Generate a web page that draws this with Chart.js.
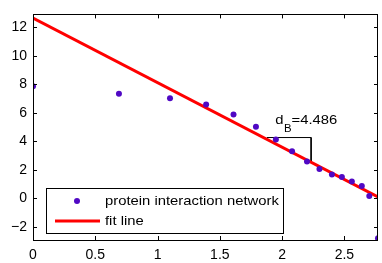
<!DOCTYPE html>
<html>
<head>
<meta charset="utf-8">
<script src="https://cdn.jsdelivr.net/npm/chart.js@4/dist/chart.umd.min.js"></script>
<style>
    html, body { margin: 0; padding: 0; background: #fff; }
    #wrap { width: 382px; height: 263px; position: relative; }
</style>
</head>
<body>
<div id="wrap"><canvas id="chart"></canvas></div>
<script>
// log box size vs log number of boxes
const logBoxSize = [0, 0.69, 1.10, 1.39, 1.61, 1.79, 1.95, 2.08, 2.20, 2.30, 2.40, 2.48, 2.56, 2.64, 2.70, 2.77];
const logBoxCount = [7.85, 7.33, 7.02, 6.57, 5.87, 5.02, 4.12, 3.29, 2.57, 2.05, 1.67, 1.49, 1.18, 0.86, 0.15, -2.81];

// fit line end points
const fitX = [0, 2.77];
const fitY = [12.65, 0.1];

// slope triangle
const triX = [1.878, 2.233, 2.233];
const triY = [4.26, 4.26, 2.57];

const seriesLabels = ['protein interaction network', 'fit line'];
const slopeLabel = ['d', 'B', '=4.486'];

const X_MIN = 0, X_MAX = 2.77;
const Y_MIN = -2.93, Y_MAX = 12.9;

const FONT = '"Liberation Sans", Arial, sans-serif';
const DOT_COLOR = '#5008c4';
const TEXT_STRETCH = 1.14;

// draw text slightly widened, like the original rendering
function wideText(ctx, text, x, y) {
    ctx.save();
    ctx.translate(x, y);
    ctx.scale(TEXT_STRETCH, 1);
    ctx.fillText(text, 0, 0);
    ctx.restore();
    return ctx.measureText(text).width * TEXT_STRETCH;
}

/**
 * Axis box with inward tick marks, legend and slope label
 */
const decorations = {
    id: 'decorations',
    afterDraw(chart) {
        const ctx = chart.ctx;
        const a = chart.chartArea;
        const xs = chart.scales.x;
        const ys = chart.scales.y;
        const tl = 4;

        ctx.save();
        ctx.strokeStyle = '#000';
        ctx.lineWidth = 1;
        ctx.beginPath();
        xs.ticks.forEach(t => {
            const px = Math.round(xs.getPixelForValue(t.value)) + 0.5;
            ctx.moveTo(px, a.bottom); ctx.lineTo(px, a.bottom - tl);
            ctx.moveTo(px, a.top); ctx.lineTo(px, a.top + tl);
        });
        ys.ticks.forEach(t => {
            const py = Math.round(ys.getPixelForValue(t.value)) + 0.5;
            ctx.moveTo(a.left, py); ctx.lineTo(a.left + tl, py);
            ctx.moveTo(a.right, py); ctx.lineTo(a.right - tl, py);
        });
        ctx.stroke();
        ctx.strokeRect(Math.round(a.left) + 0.5, Math.round(a.top) + 0.5,
            Math.round(a.right - a.left) - 1, Math.round(a.bottom - a.top));

        // slope label
        let tx = xs.getPixelForValue(1.945);
        const ty = ys.getPixelForValue(5.22);
        ctx.fillStyle = '#000';
        ctx.textBaseline = 'alphabetic';
        ctx.textAlign = 'left';
        ctx.font = '13px ' + FONT;
        tx += wideText(ctx, slopeLabel[0], tx, ty) + 0.5;
        ctx.font = '10px ' + FONT;
        tx += wideText(ctx, slopeLabel[1], tx, ty + 8);
        ctx.font = '13px ' + FONT;
        wideText(ctx, slopeLabel[2], tx, ty);

        // legend
        const lx = 46, ly = 188, lw = 237, lh = 45;
        ctx.fillStyle = '#fff';
        ctx.fillRect(lx, ly, lw, lh);
        ctx.strokeRect(lx + 0.5, ly + 0.5, lw, lh);

        ctx.fillStyle = DOT_COLOR;
        ctx.beginPath();
        ctx.arc(77, 201, 3, 0, Math.PI * 2);
        ctx.fill();

        ctx.strokeStyle = '#ff0000';
        ctx.lineWidth = 3;
        ctx.beginPath();
        ctx.moveTo(55, 221); ctx.lineTo(100, 221);
        ctx.stroke();

        ctx.fillStyle = '#000';
        ctx.font = '13px ' + FONT;
        ctx.textBaseline = 'middle';
        wideText(ctx, seriesLabels[0], 105, 201);
        wideText(ctx, seriesLabels[1], 105, 221);
        ctx.restore();
    }
};

const ctx = document.getElementById('chart').getContext('2d');
new Chart(ctx, {
    type: 'scatter',
    data: {
        datasets: [
            {
                label: seriesLabels[1],
                type: 'line',
                data: fitX.map((x, i) => ({ x: x, y: fitY[i] })),
                borderColor: '#ff0000',
                borderWidth: 3,
                pointRadius: 0,
                fill: false,
                clip: 0,
                order: 2
            },
            {
                label: 'triangle',
                type: 'line',
                data: triX.map((x, i) => ({ x: x, y: triY[i] })),
                borderColor: '#000',
                borderWidth: 1,
                pointRadius: 0,
                fill: false,
                clip: 0,
                order: 3
            },
            {
                label: seriesLabels[0],
                data: logBoxSize.map((x, i) => ({ x: x, y: logBoxCount[i] })),
                backgroundColor: DOT_COLOR,
                borderColor: DOT_COLOR,
                borderWidth: 0,
                pointRadius: 3,
                clip: 0,
                order: 1
            }
        ]
    },
    options: {
        responsive: true,
        maintainAspectRatio: false,
        animation: false,
        events: [],
        layout: { padding: { top: 5, right: 2, left: 0, bottom: 0 } },
        plugins: {
            legend: { display: false },
            tooltip: { enabled: false }
        },
        scales: {
            x: {
                type: 'linear',
                min: X_MIN,
                max: X_MAX,
                grid: { display: false, drawTicks: false },
                border: { display: false },
                afterFit: s => { s.height = 23; },
                ticks: {
                    stepSize: 0.5,
                    includeBounds: false,
                    padding: 7,
                    color: '#000',
                    maxRotation: 0,
                    font: { family: FONT, size: 14 },
                    callback: v => String(v)
                }
            },
            y: {
                type: 'linear',
                min: Y_MIN,
                max: Y_MAX,
                grid: { display: false, drawTicks: false },
                border: { display: false },
                afterFit: s => { s.width = 33; },
                ticks: {
                    stepSize: 2,
                    includeBounds: false,
                    padding: 6,
                    color: '#000',
                    font: { family: FONT, size: 14 },
                    callback: v => (v < 0 ? '\u2212' + Math.abs(v) : String(v))
                }
            }
        }
    },
    plugins: [decorations]
});
</script>
</body>
</html>
